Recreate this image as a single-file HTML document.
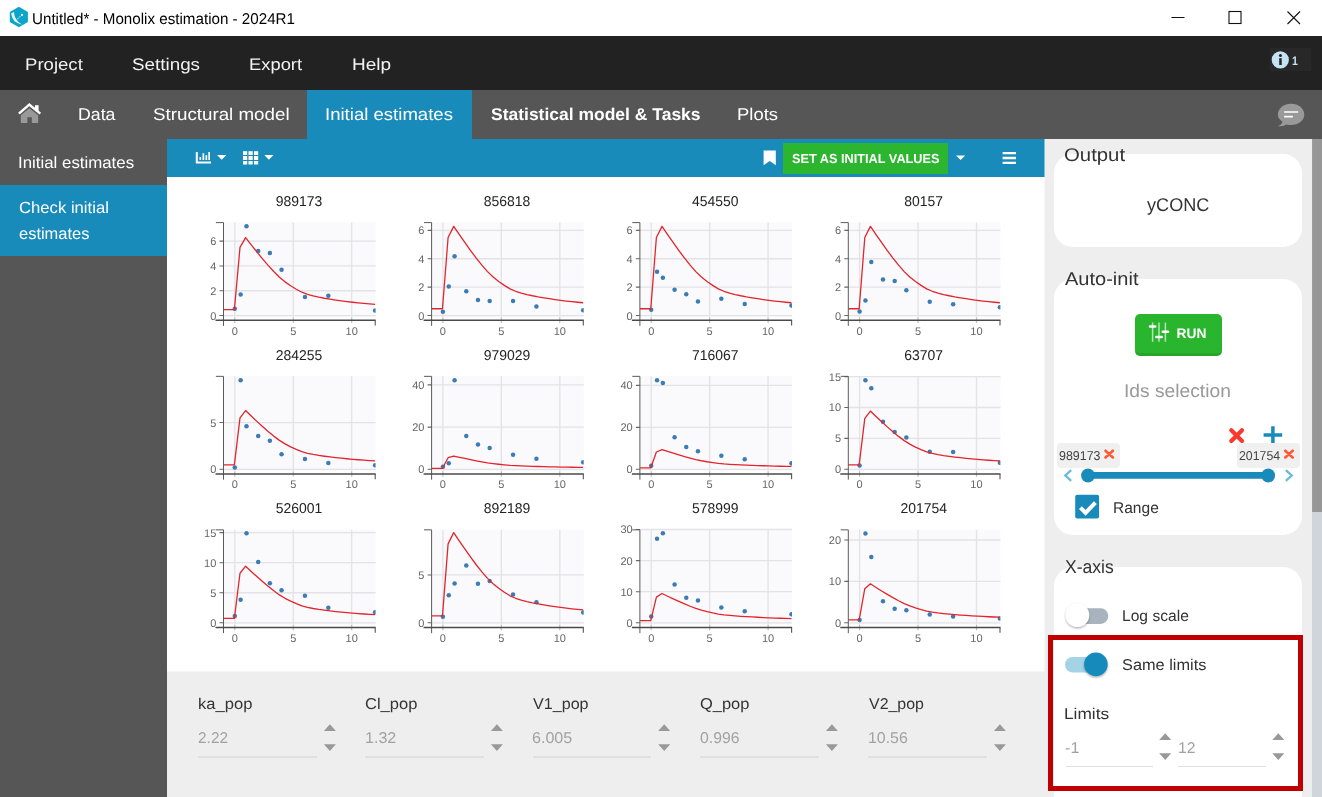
<!DOCTYPE html><html lang="en"><head><meta charset="utf-8"><title>Untitled* - Monolix estimation - 2024R1</title>
<style>
*{box-sizing:border-box}
html,body{margin:0;padding:0;background:#fff}
body{width:1322px;height:797px;overflow:hidden;font-family:"Liberation Sans",sans-serif;position:relative;text-rendering:geometricPrecision}
#app{position:absolute;left:0;top:0;width:1322px;height:797px;overflow:hidden;background:#fff}
.abs{position:absolute}
.t{position:absolute;white-space:pre;transform-origin:0 0;display:block}
.titlebar{position:absolute;left:0;top:0;width:1322px;height:36px;background:#fff}
.menubar{position:absolute;left:0;top:36px;width:1322px;height:54px;background:#222}
.tabbar{position:absolute;left:0;top:90px;width:1322px;height:49px;background:#565656}
.tab-active{position:absolute;left:307px;top:0;width:165px;height:49px;background:#188bbb}
.sidebar{position:absolute;left:0;top:139px;width:167px;height:658px;background:#565656}
.side-active{position:absolute;left:0;top:46px;width:167px;height:71px;background:#188bbb}
.toolbar{position:absolute;left:167px;top:139px;width:877px;height:38px;background:#188bbb}
.main{position:absolute;left:167px;top:177px;width:877px;height:494.5px;background:#fff}
.params{position:absolute;left:167px;top:671px;width:877px;height:126px;background:linear-gradient(#f6f6f6 0,#f6f6f6 1px,#eee 1px)}
.right{position:absolute;left:1044px;top:139px;width:268px;height:658px;background:#eee;overflow:hidden}
.seam{position:absolute;left:1044px;top:139px;width:1px;height:658px;background:linear-gradient(#83bdd5 0,#83bdd5 38px,#f6f6f6 38px,#f6f6f6 532px,#eee 532px)}
.scroll{position:absolute;left:1312px;top:139px;width:10px;height:658px;background:#d0d5dc}
.thumb{position:absolute;left:0;top:0;width:10px;height:373px;background:linear-gradient(90deg,#a0a0a0 0,#999 15%,#969696 100%)}
.card{position:absolute;background:#fff;border-radius:19px}
.plot{position:absolute;overflow:visible}
.pt{font:14.2px "Liberation Sans",sans-serif;fill:#222;text-rendering:geometricPrecision}
.tk{font:11px "Liberation Sans",sans-serif;fill:#666;text-rendering:geometricPrecision}
.uline{position:absolute;height:1.6px;background:#e0e0e0}
.btn-green{position:absolute;background:#2cb52f}
.chip{position:absolute;background:#f0f0f0;border-radius:4px}
</style></head><body><div id="app">
<div class="titlebar">
<svg class="abs" style="left:8px;top:5px" width="22" height="24" viewBox="8 5 22 24"><path d="M18.9 6.7L27.9 11.9V22L18.9 27.2L9.8 22V11.9Z" fill="#0ba5c9"/><path d="M11.1 13.6L14 12.1Q14.1 20.6 22.2 24.7Q12.6 23.4 11.1 13.6Z" fill="#fff" fill-opacity=".92"/><path d="M15.2 21.3L20.6 15.9" stroke="#fff" stroke-width=".8" stroke-dasharray="2.2 .7" fill="none"/><rect x="21" y="13.9" width="1.9" height="1.9" fill="#fff"/></svg>
<span class="t" style="left:32.31px;top:12.00px;font-size:15.6px;line-height:15.6px;font-weight:400;color:#000;transform:scaleX(0.9724)">Untitled* - Monolix estimation - 2024R1</span>
<svg class="abs" style="left:1160px;top:0" width="162" height="36" viewBox="1160 0 162 36"><path d="M1171.5 17.5H1184.5" stroke="#111" stroke-width="1"/><rect x="1229" y="11.5" width="12" height="12" fill="none" stroke="#111" stroke-width="1.1"/><path d="M1287.5 11.5L1300 24M1300 11.5L1287.5 24" stroke="#111" stroke-width="1.1"/></svg>
</div>
<div class="menubar">
<span class="t" style="left:25.16px;top:21.00px;font-size:16.8px;line-height:16.8px;font-weight:400;color:#f2f2f2;transform:scaleX(1.1065)">Project</span>
<span class="t" style="left:132.01px;top:21.00px;font-size:16.8px;line-height:16.8px;font-weight:400;color:#f2f2f2;transform:scaleX(1.1221)">Settings</span>
<span class="t" style="left:249.18px;top:21.00px;font-size:16.8px;line-height:16.8px;font-weight:400;color:#f2f2f2;transform:scaleX(1.0937)">Export</span>
<span class="t" style="left:351.73px;top:21.00px;font-size:16.8px;line-height:16.8px;font-weight:400;color:#f2f2f2;transform:scaleX(1.1315)">Help</span>
<div class="abs" style="left:1269.5px;top:12.3px;width:41.5px;height:22.4px;background:#282828"></div>
<svg class="abs" style="left:1270px;top:14px" width="20" height="20" viewBox="1270 50 20 20"><circle cx="1280.3" cy="59.9" r="8.6" fill="#c5e4f3"/><rect x="1279.2" y="58.2" width="2.5" height="6.8" fill="#222"/><circle cx="1280.45" cy="55.4" r="1.5" fill="#222"/></svg>
<span class="t" style="left:1292.04px;top:19.00px;font-size:12.2px;line-height:12.2px;font-weight:700;color:#c5e4f3;transform:scaleX(0.8647)">1</span>
</div>
<div class="tabbar"><div class="tab-active"></div>
<svg class="abs" style="left:16px;top:11px" width="28" height="24" viewBox="16 101 28 24"><path d="M29.3 108.2L38.2 115.3V123H31.8V117.2H27.4V123H20.8V115.3Z" fill="#999"/><path d="M35 105.2H38.6V111H35Z" fill="#fff"/><path d="M18.9 113.6L29.3 104.6L40.3 113.6" stroke="#fff" stroke-width="2.5" fill="none" stroke-linejoin="miter"/></svg>
<span class="t" style="left:77.84px;top:16.00px;font-size:17.0px;line-height:17.0px;font-weight:400;color:#ffffff;transform:scaleX(1.0424)">Data</span>
<span class="t" style="left:152.72px;top:16.00px;font-size:17.0px;line-height:17.0px;font-weight:400;color:#ffffff;transform:scaleX(1.1032)">Structural model</span>
<span class="t" style="left:324.98px;top:16.00px;font-size:17.0px;line-height:17.0px;font-weight:400;color:#ffffff;transform:scaleX(1.0921)">Initial estimates</span>
<span class="t" style="left:490.59px;top:16.00px;font-size:17.0px;line-height:17.0px;font-weight:700;color:#ffffff;transform:scaleX(1.0284)">Statistical model &amp; Tasks</span>
<span class="t" style="left:737.18px;top:16.00px;font-size:17.0px;line-height:17.0px;font-weight:400;color:#ffffff;transform:scaleX(1.0844)">Plots</span>
<svg class="abs" style="left:1276px;top:12px" width="32" height="26" viewBox="1276.5 102 32 26"><path d="M1278.3 126.2Q1282.5 124.6 1283 121.5Q1278.4 119.3 1278.4 114.6C1278.4 108.4 1284.3 103.8 1291.6 103.8C1298.9 103.8 1304.8 108.4 1304.8 114.6C1304.8 120.8 1298.9 125 1291.6 125Q1289 125 1286.9 124.4Q1283.5 126.6 1278.3 126.2Z" fill="#999"/><path d="M1284.6 112H1298.6M1284.6 116.6H1293.4" stroke="#fff" stroke-width="1.6"/></svg>
</div>
<div class="sidebar"><div class="side-active"></div>
<span class="t" style="left:18.13px;top:16.00px;font-size:16.3px;line-height:16.3px;font-weight:400;color:#ffffff;transform:scaleX(1.0347)">Initial estimates</span>
<span class="t" style="left:18.68px;top:61.00px;font-size:16.3px;line-height:16.3px;font-weight:400;color:#ffffff;transform:scaleX(1.0238)">Check initial</span>
<span class="t" style="left:18.95px;top:87.00px;font-size:16.3px;line-height:16.3px;font-weight:400;color:#ffffff;transform:scaleX(1.0109)">estimates</span>
</div>
<div class="toolbar">
<svg class="abs" style="left:0;top:0" width="878" height="38" viewBox="167 139 878 38"><path d="M195.8 152H197.8V161.5H211V163.4H195.8Z" fill="#fff"/><path d="M199.5 157H201.1V159.9H199.5ZM202.5 153.3H204.2V159.9H202.5ZM205.5 155.2H207.2V159.9H205.5ZM208.3 152H210V159.9H208.3Z" fill="#fff"/><path d="M217 155H226.4L221.7 159.7Z" fill="#fff"/><rect x="243" y="151.2" width="4.2" height="3.8" fill="#fff"/><rect x="243" y="156" width="4.2" height="4" fill="#fff"/><rect x="243" y="161" width="4.2" height="3.5" fill="#fff"/><rect x="248.5" y="151.2" width="4.2" height="3.8" fill="#fff"/><rect x="248.5" y="156" width="4.2" height="4" fill="#fff"/><rect x="248.5" y="161" width="4.2" height="3.5" fill="#fff"/><rect x="254" y="151.2" width="4.2" height="3.8" fill="#fff"/><rect x="254" y="156" width="4.2" height="4" fill="#fff"/><rect x="254" y="161" width="4.2" height="3.5" fill="#fff"/><path d="M264.3 155H273.5L268.9 159.7Z" fill="#fff"/><path d="M763.6 150.6H775.8V165.3L769.7 161L763.6 165.3Z" fill="#fff"/><path d="M956 155.5H965.2L960.6 160.1Z" fill="#fff"/><path d="M1002.6 153.2H1016M1002.6 158H1016M1002.6 162.8H1016" stroke="#fff" stroke-width="2.3"/></svg>
<div class="btn-green" style="left:615.6px;top:3.7px;width:165px;height:31px"></div>
<span class="t" style="left:624.58px;top:13.00px;font-size:13.1px;line-height:13.1px;font-weight:700;color:#ffffff;transform:scaleX(0.9718)">SET AS INITIAL VALUES</span>
</div>
<div class="main">
<svg class="plot" style="left:26px;top:13px" width="200" height="150" viewBox="0 0 200 150"><g transform="translate(0.50 0.40)">
<text class="pt" x="105.4" y="15.7" text-anchor="middle" textLength="46.5" lengthAdjust="spacingAndGlyphs">989173</text>
<rect x="30.5" y="32" width="151.60000000000002" height="95.0" fill="#fafafd"/>
<path d="M41.30 32V127.0M99.75 32V127.0M158.20 32V127.0M30 125.15H182.10000000000002M30 100.35H182.10000000000002M30 75.55H182.10000000000002M30 50.75H182.10000000000002" stroke="#e2e2e7" stroke-width="1.3" fill="none"/>
<path d="M26 125.15H30M26 100.35H30M26 75.55H30M26 50.75H30" stroke="#666" stroke-width="1.1" fill="none"/>
<path d="M41.30 127.0V132.70000000000002M99.75 127.0V132.70000000000002M158.20 127.0V132.70000000000002" stroke="#bdbdc2" stroke-width="1.2" fill="none"/>
<clipPath id="c00"><rect x="30" y="30" width="152.10000000000002" height="97.0"/></clipPath>
<g clip-path="url(#c00)">
<circle cx="41.30" cy="118.33" r="2.25" fill="#3b7cb5"/>
<circle cx="47.14" cy="104.07" r="2.25" fill="#3b7cb5"/>
<circle cx="52.99" cy="35.87" r="2.25" fill="#3b7cb5"/>
<circle cx="64.68" cy="60.67" r="2.25" fill="#3b7cb5"/>
<circle cx="76.37" cy="62.53" r="2.25" fill="#3b7cb5"/>
<circle cx="88.06" cy="79.27" r="2.25" fill="#3b7cb5"/>
<circle cx="111.44" cy="106.55" r="2.25" fill="#3b7cb5"/>
<circle cx="134.82" cy="105.31" r="2.25" fill="#3b7cb5"/>
<circle cx="181.58" cy="120.19" r="2.25" fill="#3b7cb5"/>
<polyline points="29.61,119.20 40.87,119.20 46.50,56.95 52.12,47.28 57.75,54.53 63.38,61.56 69.01,68.41 74.64,75.00 80.27,81.13 85.90,86.79 91.52,91.45 97.15,95.38 102.78,98.80 108.41,101.81 114.04,103.95 119.67,105.49 125.29,106.77 130.92,107.86 136.55,108.82 142.18,109.67 147.81,110.45 153.44,111.18 159.07,111.86 164.69,112.48 170.32,113.04 175.95,113.54 181.58,113.99" fill="none" stroke="#e3242b" stroke-width="1.3" stroke-linejoin="round"/></g>
<path d="M22.4 32.2H30V135.5" stroke="#5a5a5a" stroke-width="1" fill="none"/>
<path d="M22 129.9H182.20000000000002" stroke="#4a4a4a" stroke-width="1.35" fill="none"/>
<path d="M181.70000000000002 129.9v5.3" stroke="#555" stroke-width="1.1" fill="none"/>
<text class="tk"  x="22.8" y="129.15" text-anchor="end">0</text>
<text class="tk"  x="22.8" y="104.35" text-anchor="end">2</text>
<text class="tk"  x="22.8" y="79.55" text-anchor="end">4</text>
<text class="tk"  x="22.8" y="54.75" text-anchor="end">6</text>
<text class="tk" x="41.30" y="144.3" text-anchor="middle">0</text>
<text class="tk" x="99.75" y="144.3" text-anchor="middle">5</text>
<text class="tk" x="158.20" y="144.3" text-anchor="middle">10</text>
</g></svg>
<svg class="plot" style="left:234px;top:13px" width="200" height="150" viewBox="0 0 200 150"><g transform="translate(0.60 0.40)">
<text class="pt" x="105.4" y="15.7" text-anchor="middle" textLength="46.5" lengthAdjust="spacingAndGlyphs">856818</text>
<rect x="30.5" y="32" width="151.60000000000002" height="95.0" fill="#fafafd"/>
<path d="M41.30 32V127.0M99.75 32V127.0M158.20 32V127.0M30 125.15H182.10000000000002M30 96.75H182.10000000000002M30 68.35H182.10000000000002M30 39.95H182.10000000000002" stroke="#e2e2e7" stroke-width="1.3" fill="none"/>
<path d="M26 125.15H30M26 96.75H30M26 68.35H30M26 39.95H30" stroke="#666" stroke-width="1.1" fill="none"/>
<path d="M41.30 127.0V132.70000000000002M99.75 127.0V132.70000000000002M158.20 127.0V132.70000000000002" stroke="#bdbdc2" stroke-width="1.2" fill="none"/>
<clipPath id="c10"><rect x="30" y="30" width="152.10000000000002" height="97.0"/></clipPath>
<g clip-path="url(#c10)">
<circle cx="41.30" cy="121.32" r="2.25" fill="#3b7cb5"/>
<circle cx="47.14" cy="96.18" r="2.25" fill="#3b7cb5"/>
<circle cx="52.99" cy="65.79" r="2.25" fill="#3b7cb5"/>
<circle cx="64.68" cy="100.87" r="2.25" fill="#3b7cb5"/>
<circle cx="76.37" cy="109.53" r="2.25" fill="#3b7cb5"/>
<circle cx="88.06" cy="110.67" r="2.25" fill="#3b7cb5"/>
<circle cx="111.44" cy="110.52" r="2.25" fill="#3b7cb5"/>
<circle cx="134.82" cy="116.06" r="2.25" fill="#3b7cb5"/>
<circle cx="181.58" cy="119.90" r="2.25" fill="#3b7cb5"/>
<polyline points="29.61,118.33 40.87,118.33 46.50,47.05 52.12,35.97 57.75,44.28 63.38,52.33 69.01,60.17 74.64,67.72 80.27,74.74 85.90,81.22 91.52,86.55 97.15,91.06 102.78,94.98 108.41,98.43 114.04,100.87 119.67,102.64 125.29,104.11 130.92,105.35 136.55,106.45 142.18,107.42 147.81,108.31 153.44,109.15 159.07,109.93 164.69,110.64 170.32,111.28 175.95,111.86 181.58,112.37" fill="none" stroke="#e3242b" stroke-width="1.3" stroke-linejoin="round"/></g>
<path d="M22.4 32.2H30V135.5" stroke="#5a5a5a" stroke-width="1" fill="none"/>
<path d="M22 129.9H182.20000000000002" stroke="#4a4a4a" stroke-width="1.35" fill="none"/>
<path d="M181.70000000000002 129.9v5.3" stroke="#555" stroke-width="1.1" fill="none"/>
<text class="tk"  x="22.8" y="129.15" text-anchor="end">0</text>
<text class="tk"  x="22.8" y="100.75" text-anchor="end">2</text>
<text class="tk"  x="22.8" y="72.35" text-anchor="end">4</text>
<text class="tk"  x="22.8" y="43.95" text-anchor="end">6</text>
<text class="tk" x="41.30" y="144.3" text-anchor="middle">0</text>
<text class="tk" x="99.75" y="144.3" text-anchor="middle">5</text>
<text class="tk" x="158.20" y="144.3" text-anchor="middle">10</text>
</g></svg>
<svg class="plot" style="left:442px;top:13px" width="200" height="150" viewBox="0 0 200 150"><g transform="translate(0.90 0.40)">
<text class="pt" x="105.4" y="15.7" text-anchor="middle" textLength="46.5" lengthAdjust="spacingAndGlyphs">454550</text>
<rect x="30.5" y="32" width="151.60000000000002" height="95.0" fill="#fafafd"/>
<path d="M41.30 32V127.0M99.75 32V127.0M158.20 32V127.0M30 125.15H182.10000000000002M30 96.75H182.10000000000002M30 68.35H182.10000000000002M30 39.95H182.10000000000002" stroke="#e2e2e7" stroke-width="1.3" fill="none"/>
<path d="M26 125.15H30M26 96.75H30M26 68.35H30M26 39.95H30" stroke="#666" stroke-width="1.1" fill="none"/>
<path d="M41.30 127.0V132.70000000000002M99.75 127.0V132.70000000000002M158.20 127.0V132.70000000000002" stroke="#bdbdc2" stroke-width="1.2" fill="none"/>
<clipPath id="c20"><rect x="30" y="30" width="152.10000000000002" height="97.0"/></clipPath>
<g clip-path="url(#c20)">
<circle cx="41.30" cy="119.33" r="2.25" fill="#3b7cb5"/>
<circle cx="47.14" cy="81.41" r="2.25" fill="#3b7cb5"/>
<circle cx="52.99" cy="87.38" r="2.25" fill="#3b7cb5"/>
<circle cx="64.68" cy="99.45" r="2.25" fill="#3b7cb5"/>
<circle cx="76.37" cy="103.85" r="2.25" fill="#3b7cb5"/>
<circle cx="88.06" cy="111.09" r="2.25" fill="#3b7cb5"/>
<circle cx="111.44" cy="108.25" r="2.25" fill="#3b7cb5"/>
<circle cx="134.82" cy="113.65" r="2.25" fill="#3b7cb5"/>
<circle cx="181.58" cy="115.21" r="2.25" fill="#3b7cb5"/>
<polyline points="29.61,118.33 40.87,118.33 46.50,47.05 52.12,35.97 57.75,44.28 63.38,52.33 69.01,60.17 74.64,67.72 80.27,74.74 85.90,81.22 91.52,86.55 97.15,91.06 102.78,94.98 108.41,98.43 114.04,100.87 119.67,102.64 125.29,104.11 130.92,105.35 136.55,106.45 142.18,107.42 147.81,108.31 153.44,109.15 159.07,109.93 164.69,110.64 170.32,111.28 175.95,111.86 181.58,112.37" fill="none" stroke="#e3242b" stroke-width="1.3" stroke-linejoin="round"/></g>
<path d="M22.4 32.2H30V135.5" stroke="#5a5a5a" stroke-width="1" fill="none"/>
<path d="M22 129.9H182.20000000000002" stroke="#4a4a4a" stroke-width="1.35" fill="none"/>
<path d="M181.70000000000002 129.9v5.3" stroke="#555" stroke-width="1.1" fill="none"/>
<text class="tk"  x="22.8" y="129.15" text-anchor="end">0</text>
<text class="tk"  x="22.8" y="100.75" text-anchor="end">2</text>
<text class="tk"  x="22.8" y="72.35" text-anchor="end">4</text>
<text class="tk"  x="22.8" y="43.95" text-anchor="end">6</text>
<text class="tk" x="41.30" y="144.3" text-anchor="middle">0</text>
<text class="tk" x="99.75" y="144.3" text-anchor="middle">5</text>
<text class="tk" x="158.20" y="144.3" text-anchor="middle">10</text>
</g></svg>
<svg class="plot" style="left:651px;top:13px" width="200" height="150" viewBox="0 0 200 150"><g transform="translate(0.30 0.40)">
<text class="pt" x="105.4" y="15.7" text-anchor="middle" textLength="38.8" lengthAdjust="spacingAndGlyphs">80157</text>
<rect x="30.5" y="32" width="151.60000000000002" height="95.0" fill="#fafafd"/>
<path d="M41.30 32V127.0M99.75 32V127.0M158.20 32V127.0M30 125.15H182.10000000000002M30 96.75H182.10000000000002M30 68.35H182.10000000000002M30 39.95H182.10000000000002" stroke="#e2e2e7" stroke-width="1.3" fill="none"/>
<path d="M26 125.15H30M26 96.75H30M26 68.35H30M26 39.95H30" stroke="#666" stroke-width="1.1" fill="none"/>
<path d="M41.30 127.0V132.70000000000002M99.75 127.0V132.70000000000002M158.20 127.0V132.70000000000002" stroke="#bdbdc2" stroke-width="1.2" fill="none"/>
<clipPath id="c30"><rect x="30" y="30" width="152.10000000000002" height="97.0"/></clipPath>
<g clip-path="url(#c30)">
<circle cx="41.30" cy="121.17" r="2.25" fill="#3b7cb5"/>
<circle cx="47.14" cy="110.10" r="2.25" fill="#3b7cb5"/>
<circle cx="52.99" cy="71.62" r="2.25" fill="#3b7cb5"/>
<circle cx="64.68" cy="89.22" r="2.25" fill="#3b7cb5"/>
<circle cx="76.37" cy="90.64" r="2.25" fill="#3b7cb5"/>
<circle cx="88.06" cy="99.73" r="2.25" fill="#3b7cb5"/>
<circle cx="111.44" cy="111.38" r="2.25" fill="#3b7cb5"/>
<circle cx="134.82" cy="113.79" r="2.25" fill="#3b7cb5"/>
<circle cx="181.58" cy="116.77" r="2.25" fill="#3b7cb5"/>
<polyline points="29.61,118.33 40.87,118.33 46.50,47.05 52.12,35.97 57.75,44.28 63.38,52.33 69.01,60.17 74.64,67.72 80.27,74.74 85.90,81.22 91.52,86.55 97.15,91.06 102.78,94.98 108.41,98.43 114.04,100.87 119.67,102.64 125.29,104.11 130.92,105.35 136.55,106.45 142.18,107.42 147.81,108.31 153.44,109.15 159.07,109.93 164.69,110.64 170.32,111.28 175.95,111.86 181.58,112.37" fill="none" stroke="#e3242b" stroke-width="1.3" stroke-linejoin="round"/></g>
<path d="M22.4 32.2H30V135.5" stroke="#5a5a5a" stroke-width="1" fill="none"/>
<path d="M22 129.9H182.20000000000002" stroke="#4a4a4a" stroke-width="1.35" fill="none"/>
<path d="M181.70000000000002 129.9v5.3" stroke="#555" stroke-width="1.1" fill="none"/>
<text class="tk"  x="22.8" y="129.15" text-anchor="end">0</text>
<text class="tk"  x="22.8" y="100.75" text-anchor="end">2</text>
<text class="tk"  x="22.8" y="72.35" text-anchor="end">4</text>
<text class="tk"  x="22.8" y="43.95" text-anchor="end">6</text>
<text class="tk" x="41.30" y="144.3" text-anchor="middle">0</text>
<text class="tk" x="99.75" y="144.3" text-anchor="middle">5</text>
<text class="tk" x="158.20" y="144.3" text-anchor="middle">10</text>
</g></svg>
<svg class="plot" style="left:26px;top:167px" width="200" height="150" viewBox="0 0 200 150"><g transform="translate(0.50 0.15)">
<text class="pt" x="105.4" y="15.7" text-anchor="middle" textLength="46.5" lengthAdjust="spacingAndGlyphs">284255</text>
<rect x="30.5" y="32" width="151.60000000000002" height="95.0" fill="#fafafd"/>
<path d="M41.30 32V127.0M99.75 32V127.0M158.20 32V127.0M30 125.15H182.10000000000002M30 78.40H182.10000000000002" stroke="#e2e2e7" stroke-width="1.3" fill="none"/>
<path d="M26 125.15H30M26 78.40H30" stroke="#666" stroke-width="1.1" fill="none"/>
<path d="M41.30 127.0V132.70000000000002M99.75 127.0V132.70000000000002M158.20 127.0V132.70000000000002" stroke="#bdbdc2" stroke-width="1.2" fill="none"/>
<clipPath id="c01"><rect x="30" y="30" width="152.10000000000002" height="97.0"/></clipPath>
<g clip-path="url(#c01)">
<circle cx="41.30" cy="123.28" r="2.25" fill="#3b7cb5"/>
<circle cx="47.14" cy="36.04" r="2.25" fill="#3b7cb5"/>
<circle cx="52.99" cy="82.14" r="2.25" fill="#3b7cb5"/>
<circle cx="64.68" cy="91.77" r="2.25" fill="#3b7cb5"/>
<circle cx="76.37" cy="96.63" r="2.25" fill="#3b7cb5"/>
<circle cx="88.06" cy="110.10" r="2.25" fill="#3b7cb5"/>
<circle cx="111.44" cy="114.96" r="2.25" fill="#3b7cb5"/>
<circle cx="134.82" cy="118.89" r="2.25" fill="#3b7cb5"/>
<circle cx="181.58" cy="121.22" r="2.25" fill="#3b7cb5"/>
<polyline points="29.61,120.66 40.87,120.66 46.50,73.73 52.12,66.43 57.75,71.90 63.38,77.20 69.01,82.37 74.64,87.33 80.27,91.96 85.90,96.22 91.52,99.74 97.15,102.71 102.78,105.28 108.41,107.55 114.04,109.16 119.67,110.33 125.29,111.29 130.92,112.11 136.55,112.83 142.18,113.47 147.81,114.06 153.44,114.62 159.07,115.13 164.69,115.60 170.32,116.02 175.95,116.40 181.58,116.74" fill="none" stroke="#e3242b" stroke-width="1.3" stroke-linejoin="round"/></g>
<path d="M22.4 32.2H30V135.5" stroke="#5a5a5a" stroke-width="1" fill="none"/>
<path d="M22 129.9H182.20000000000002" stroke="#4a4a4a" stroke-width="1.35" fill="none"/>
<path d="M181.70000000000002 129.9v5.3" stroke="#555" stroke-width="1.1" fill="none"/>
<text class="tk"  x="22.8" y="129.15" text-anchor="end">0</text>
<text class="tk"  x="22.8" y="82.40" text-anchor="end">5</text>
<text class="tk" x="41.30" y="144.3" text-anchor="middle">0</text>
<text class="tk" x="99.75" y="144.3" text-anchor="middle">5</text>
<text class="tk" x="158.20" y="144.3" text-anchor="middle">10</text>
</g></svg>
<svg class="plot" style="left:234px;top:167px" width="200" height="150" viewBox="0 0 200 150"><g transform="translate(0.60 0.15)">
<text class="pt" x="105.4" y="15.7" text-anchor="middle" textLength="46.5" lengthAdjust="spacingAndGlyphs">979029</text>
<rect x="30.5" y="32" width="151.60000000000002" height="95.0" fill="#fafafd"/>
<path d="M41.30 32V127.0M99.75 32V127.0M158.20 32V127.0M30 125.15H182.10000000000002M30 82.95H182.10000000000002M30 40.75H182.10000000000002" stroke="#e2e2e7" stroke-width="1.3" fill="none"/>
<path d="M26 125.15H30M26 82.95H30M26 40.75H30" stroke="#666" stroke-width="1.1" fill="none"/>
<path d="M41.30 127.0V132.70000000000002M99.75 127.0V132.70000000000002M158.20 127.0V132.70000000000002" stroke="#bdbdc2" stroke-width="1.2" fill="none"/>
<clipPath id="c11"><rect x="30" y="30" width="152.10000000000002" height="97.0"/></clipPath>
<g clip-path="url(#c11)">
<circle cx="41.30" cy="122.49" r="2.25" fill="#3b7cb5"/>
<circle cx="47.14" cy="119.03" r="2.25" fill="#3b7cb5"/>
<circle cx="52.99" cy="36.11" r="2.25" fill="#3b7cb5"/>
<circle cx="64.68" cy="91.81" r="2.25" fill="#3b7cb5"/>
<circle cx="76.37" cy="100.46" r="2.25" fill="#3b7cb5"/>
<circle cx="88.06" cy="103.84" r="2.25" fill="#3b7cb5"/>
<circle cx="111.44" cy="110.59" r="2.25" fill="#3b7cb5"/>
<circle cx="134.82" cy="114.60" r="2.25" fill="#3b7cb5"/>
<circle cx="181.58" cy="118.19" r="2.25" fill="#3b7cb5"/>
<polyline points="29.61,124.14 40.87,124.14 46.50,113.55 52.12,111.90 57.75,113.13 63.38,114.33 69.01,115.50 74.64,116.62 80.27,117.66 85.90,118.62 91.52,119.41 97.15,120.09 102.78,120.67 108.41,121.18 114.04,121.54 119.67,121.81 125.29,122.02 130.92,122.21 136.55,122.37 142.18,122.52 147.81,122.65 153.44,122.77 159.07,122.89 164.69,122.99 170.32,123.09 175.95,123.17 181.58,123.25" fill="none" stroke="#e3242b" stroke-width="1.3" stroke-linejoin="round"/></g>
<path d="M22.4 32.2H30V135.5" stroke="#5a5a5a" stroke-width="1" fill="none"/>
<path d="M22 129.9H182.20000000000002" stroke="#4a4a4a" stroke-width="1.35" fill="none"/>
<path d="M181.70000000000002 129.9v5.3" stroke="#555" stroke-width="1.1" fill="none"/>
<text class="tk"  x="22.8" y="129.15" text-anchor="end">0</text>
<text class="tk"  x="22.8" y="86.95" text-anchor="end">20</text>
<text class="tk"  x="22.8" y="44.75" text-anchor="end">40</text>
<text class="tk" x="41.30" y="144.3" text-anchor="middle">0</text>
<text class="tk" x="99.75" y="144.3" text-anchor="middle">5</text>
<text class="tk" x="158.20" y="144.3" text-anchor="middle">10</text>
</g></svg>
<svg class="plot" style="left:442px;top:167px" width="200" height="150" viewBox="0 0 200 150"><g transform="translate(0.90 0.15)">
<text class="pt" x="105.4" y="15.7" text-anchor="middle" textLength="46.5" lengthAdjust="spacingAndGlyphs">716067</text>
<rect x="30.5" y="32" width="151.60000000000002" height="95.0" fill="#fafafd"/>
<path d="M41.30 32V127.0M99.75 32V127.0M158.20 32V127.0M30 125.15H182.10000000000002M30 83.19H182.10000000000002M30 41.23H182.10000000000002" stroke="#e2e2e7" stroke-width="1.3" fill="none"/>
<path d="M26 125.15H30M26 83.19H30M26 41.23H30" stroke="#666" stroke-width="1.1" fill="none"/>
<path d="M41.30 127.0V132.70000000000002M99.75 127.0V132.70000000000002M158.20 127.0V132.70000000000002" stroke="#bdbdc2" stroke-width="1.2" fill="none"/>
<clipPath id="c21"><rect x="30" y="30" width="152.10000000000002" height="97.0"/></clipPath>
<g clip-path="url(#c21)">
<circle cx="41.30" cy="121.71" r="2.25" fill="#3b7cb5"/>
<circle cx="47.14" cy="35.99" r="2.25" fill="#3b7cb5"/>
<circle cx="52.99" cy="38.92" r="2.25" fill="#3b7cb5"/>
<circle cx="64.68" cy="93.05" r="2.25" fill="#3b7cb5"/>
<circle cx="76.37" cy="102.91" r="2.25" fill="#3b7cb5"/>
<circle cx="88.06" cy="107.11" r="2.25" fill="#3b7cb5"/>
<circle cx="111.44" cy="111.72" r="2.25" fill="#3b7cb5"/>
<circle cx="134.82" cy="115.08" r="2.25" fill="#3b7cb5"/>
<circle cx="181.58" cy="119.19" r="2.25" fill="#3b7cb5"/>
<polyline points="29.61,123.64 40.87,123.64 46.50,107.84 52.12,105.39 57.75,107.23 63.38,109.01 69.01,110.75 74.64,112.42 80.27,113.98 85.90,115.41 91.52,116.60 97.15,117.60 102.78,118.46 108.41,119.23 114.04,119.77 119.67,120.16 125.29,120.49 130.92,120.76 136.55,121.00 142.18,121.22 147.81,121.42 153.44,121.61 159.07,121.78 164.69,121.93 170.32,122.08 175.95,122.20 181.58,122.32" fill="none" stroke="#e3242b" stroke-width="1.3" stroke-linejoin="round"/></g>
<path d="M22.4 32.2H30V135.5" stroke="#5a5a5a" stroke-width="1" fill="none"/>
<path d="M22 129.9H182.20000000000002" stroke="#4a4a4a" stroke-width="1.35" fill="none"/>
<path d="M181.70000000000002 129.9v5.3" stroke="#555" stroke-width="1.1" fill="none"/>
<text class="tk"  x="22.8" y="129.15" text-anchor="end">0</text>
<text class="tk"  x="22.8" y="87.19" text-anchor="end">20</text>
<text class="tk"  x="22.8" y="45.23" text-anchor="end">40</text>
<text class="tk" x="41.30" y="144.3" text-anchor="middle">0</text>
<text class="tk" x="99.75" y="144.3" text-anchor="middle">5</text>
<text class="tk" x="158.20" y="144.3" text-anchor="middle">10</text>
</g></svg>
<svg class="plot" style="left:651px;top:167px" width="200" height="150" viewBox="0 0 200 150"><g transform="translate(0.30 0.15)">
<text class="pt" x="105.4" y="15.7" text-anchor="middle" textLength="38.8" lengthAdjust="spacingAndGlyphs">63707</text>
<rect x="30.5" y="32" width="151.60000000000002" height="95.0" fill="#fafafd"/>
<path d="M41.30 32V127.0M99.75 32V127.0M158.20 32V127.0M30 125.15H182.10000000000002M30 94.25H182.10000000000002M30 63.35H182.10000000000002M30 32.45H182.10000000000002" stroke="#e2e2e7" stroke-width="1.3" fill="none"/>
<path d="M26 125.15H30M26 94.25H30M26 63.35H30M26 32.45H30" stroke="#666" stroke-width="1.1" fill="none"/>
<path d="M41.30 127.0V132.70000000000002M99.75 127.0V132.70000000000002M158.20 127.0V132.70000000000002" stroke="#bdbdc2" stroke-width="1.2" fill="none"/>
<clipPath id="c31"><rect x="30" y="30" width="152.10000000000002" height="97.0"/></clipPath>
<g clip-path="url(#c31)">
<circle cx="41.30" cy="121.38" r="2.25" fill="#3b7cb5"/>
<circle cx="47.14" cy="36.16" r="2.25" fill="#3b7cb5"/>
<circle cx="52.99" cy="44.19" r="2.25" fill="#3b7cb5"/>
<circle cx="64.68" cy="77.63" r="2.25" fill="#3b7cb5"/>
<circle cx="76.37" cy="87.82" r="2.25" fill="#3b7cb5"/>
<circle cx="88.06" cy="93.32" r="2.25" fill="#3b7cb5"/>
<circle cx="111.44" cy="107.60" r="2.25" fill="#3b7cb5"/>
<circle cx="134.82" cy="107.91" r="2.25" fill="#3b7cb5"/>
<circle cx="181.58" cy="118.72" r="2.25" fill="#3b7cb5"/>
<polyline points="29.61,120.70 40.87,120.70 46.50,74.17 52.12,66.93 57.75,72.36 63.38,77.61 69.01,82.73 74.64,87.66 80.27,92.24 85.90,96.47 91.52,99.95 97.15,102.90 102.78,105.45 108.41,107.71 114.04,109.30 119.67,110.46 125.29,111.41 130.92,112.23 136.55,112.94 142.18,113.57 147.81,114.16 153.44,114.71 159.07,115.21 164.69,115.68 170.32,116.10 175.95,116.47 181.58,116.81" fill="none" stroke="#e3242b" stroke-width="1.3" stroke-linejoin="round"/></g>
<path d="M22.4 32.2H30V135.5" stroke="#5a5a5a" stroke-width="1" fill="none"/>
<path d="M22 129.9H182.20000000000002" stroke="#4a4a4a" stroke-width="1.35" fill="none"/>
<path d="M181.70000000000002 129.9v5.3" stroke="#555" stroke-width="1.1" fill="none"/>
<text class="tk"  x="22.8" y="129.15" text-anchor="end">0</text>
<text class="tk"  x="22.8" y="98.25" text-anchor="end">5</text>
<text class="tk"  x="22.8" y="67.35" text-anchor="end">10</text>
<text class="tk"  x="22.8" y="36.45" text-anchor="end">15</text>
<text class="tk" x="41.30" y="144.3" text-anchor="middle">0</text>
<text class="tk" x="99.75" y="144.3" text-anchor="middle">5</text>
<text class="tk" x="158.20" y="144.3" text-anchor="middle">10</text>
</g></svg>
<svg class="plot" style="left:26px;top:320px" width="200" height="150" viewBox="0 0 200 150"><g transform="translate(0.50 0.65)">
<text class="pt" x="105.4" y="15.7" text-anchor="middle" textLength="46.5" lengthAdjust="spacingAndGlyphs">526001</text>
<rect x="30.5" y="32" width="151.60000000000002" height="95.0" fill="#fafafd"/>
<path d="M41.30 32V127.0M99.75 32V127.0M158.20 32V127.0M30 125.15H182.10000000000002M30 95.10H182.10000000000002M30 65.05H182.10000000000002M30 35.00H182.10000000000002" stroke="#e2e2e7" stroke-width="1.3" fill="none"/>
<path d="M26 125.15H30M26 95.10H30M26 65.05H30M26 35.00H30" stroke="#666" stroke-width="1.1" fill="none"/>
<path d="M41.30 127.0V132.70000000000002M99.75 127.0V132.70000000000002M158.20 127.0V132.70000000000002" stroke="#bdbdc2" stroke-width="1.2" fill="none"/>
<clipPath id="c02"><rect x="30" y="30" width="152.10000000000002" height="97.0"/></clipPath>
<g clip-path="url(#c02)">
<circle cx="41.30" cy="118.42" r="2.25" fill="#3b7cb5"/>
<circle cx="47.14" cy="102.07" r="2.25" fill="#3b7cb5"/>
<circle cx="52.99" cy="35.60" r="2.25" fill="#3b7cb5"/>
<circle cx="64.68" cy="64.45" r="2.25" fill="#3b7cb5"/>
<circle cx="76.37" cy="85.48" r="2.25" fill="#3b7cb5"/>
<circle cx="88.06" cy="92.52" r="2.25" fill="#3b7cb5"/>
<circle cx="111.44" cy="98.04" r="2.25" fill="#3b7cb5"/>
<circle cx="134.82" cy="110.12" r="2.25" fill="#3b7cb5"/>
<circle cx="181.58" cy="114.51" r="2.25" fill="#3b7cb5"/>
<polyline points="29.61,120.82 40.87,120.82 46.50,75.57 52.12,68.54 57.75,73.81 63.38,78.92 69.01,83.90 74.64,88.69 80.27,93.14 85.90,97.26 91.52,100.65 97.15,103.51 102.78,106.00 108.41,108.18 114.04,109.74 119.67,110.86 125.29,111.79 130.92,112.58 136.55,113.28 142.18,113.89 147.81,114.46 153.44,115.00 159.07,115.49 164.69,115.94 170.32,116.34 175.95,116.71 181.58,117.04" fill="none" stroke="#e3242b" stroke-width="1.3" stroke-linejoin="round"/></g>
<path d="M22.4 32.2H30V135.5" stroke="#5a5a5a" stroke-width="1" fill="none"/>
<path d="M22 129.9H182.20000000000002" stroke="#4a4a4a" stroke-width="1.35" fill="none"/>
<path d="M181.70000000000002 129.9v5.3" stroke="#555" stroke-width="1.1" fill="none"/>
<text class="tk"  x="22.8" y="129.15" text-anchor="end">0</text>
<text class="tk"  x="22.8" y="99.10" text-anchor="end">5</text>
<text class="tk"  x="22.8" y="69.05" text-anchor="end">10</text>
<text class="tk"  x="22.8" y="39.00" text-anchor="end">15</text>
<text class="tk" x="41.30" y="144.3" text-anchor="middle">0</text>
<text class="tk" x="99.75" y="144.3" text-anchor="middle">5</text>
<text class="tk" x="158.20" y="144.3" text-anchor="middle">10</text>
</g></svg>
<svg class="plot" style="left:234px;top:320px" width="200" height="150" viewBox="0 0 200 150"><g transform="translate(0.60 0.65)">
<text class="pt" x="105.4" y="15.7" text-anchor="middle" textLength="46.5" lengthAdjust="spacingAndGlyphs">892189</text>
<rect x="30.5" y="32" width="151.60000000000002" height="95.0" fill="#fafafd"/>
<path d="M41.30 32V127.0M99.75 32V127.0M158.20 32V127.0M30 125.15H182.10000000000002M30 77.30H182.10000000000002" stroke="#e2e2e7" stroke-width="1.3" fill="none"/>
<path d="M26 125.15H30M26 77.30H30" stroke="#666" stroke-width="1.1" fill="none"/>
<path d="M41.30 127.0V132.70000000000002M99.75 127.0V132.70000000000002M158.20 127.0V132.70000000000002" stroke="#bdbdc2" stroke-width="1.2" fill="none"/>
<clipPath id="c12"><rect x="30" y="30" width="152.10000000000002" height="97.0"/></clipPath>
<g clip-path="url(#c12)">
<circle cx="41.30" cy="119.22" r="2.25" fill="#3b7cb5"/>
<circle cx="47.14" cy="97.68" r="2.25" fill="#3b7cb5"/>
<circle cx="52.99" cy="85.91" r="2.25" fill="#3b7cb5"/>
<circle cx="64.68" cy="67.73" r="2.25" fill="#3b7cb5"/>
<circle cx="76.37" cy="86.10" r="2.25" fill="#3b7cb5"/>
<circle cx="88.06" cy="83.23" r="2.25" fill="#3b7cb5"/>
<circle cx="111.44" cy="96.92" r="2.25" fill="#3b7cb5"/>
<circle cx="134.82" cy="104.48" r="2.25" fill="#3b7cb5"/>
<circle cx="181.58" cy="114.81" r="2.25" fill="#3b7cb5"/>
<polyline points="29.61,118.26 40.87,118.26 46.50,46.20 52.12,35.00 57.75,43.40 63.38,51.54 69.01,59.47 74.64,67.09 80.27,74.19 85.90,80.74 91.52,86.13 97.15,90.69 102.78,94.65 108.41,98.14 114.04,100.61 119.67,102.39 125.29,103.88 130.92,105.14 136.55,106.24 142.18,107.22 147.81,108.13 153.44,108.98 159.07,109.76 164.69,110.48 170.32,111.13 175.95,111.71 181.58,112.23" fill="none" stroke="#e3242b" stroke-width="1.3" stroke-linejoin="round"/></g>
<path d="M22.4 32.2H30V135.5" stroke="#5a5a5a" stroke-width="1" fill="none"/>
<path d="M22 129.9H182.20000000000002" stroke="#4a4a4a" stroke-width="1.35" fill="none"/>
<path d="M181.70000000000002 129.9v5.3" stroke="#555" stroke-width="1.1" fill="none"/>
<text class="tk"  x="22.8" y="129.15" text-anchor="end">0</text>
<text class="tk"  x="22.8" y="81.30" text-anchor="end">5</text>
<text class="tk" x="41.30" y="144.3" text-anchor="middle">0</text>
<text class="tk" x="99.75" y="144.3" text-anchor="middle">5</text>
<text class="tk" x="158.20" y="144.3" text-anchor="middle">10</text>
</g></svg>
<svg class="plot" style="left:442px;top:320px" width="200" height="150" viewBox="0 0 200 150"><g transform="translate(0.90 0.65)">
<text class="pt" x="105.4" y="15.7" text-anchor="middle" textLength="46.5" lengthAdjust="spacingAndGlyphs">578999</text>
<rect x="30.5" y="32" width="151.60000000000002" height="95.0" fill="#fafafd"/>
<path d="M41.30 32V127.0M99.75 32V127.0M158.20 32V127.0M30 125.15H182.10000000000002M30 94.05H182.10000000000002M30 62.95H182.10000000000002M30 31.85H182.10000000000002" stroke="#e2e2e7" stroke-width="1.3" fill="none"/>
<path d="M26 125.15H30M26 94.05H30M26 62.95H30M26 31.85H30" stroke="#666" stroke-width="1.1" fill="none"/>
<path d="M41.30 127.0V132.70000000000002M99.75 127.0V132.70000000000002M158.20 127.0V132.70000000000002" stroke="#bdbdc2" stroke-width="1.2" fill="none"/>
<clipPath id="c22"><rect x="30" y="30" width="152.10000000000002" height="97.0"/></clipPath>
<g clip-path="url(#c22)">
<circle cx="41.30" cy="118.93" r="2.25" fill="#3b7cb5"/>
<circle cx="47.14" cy="41.18" r="2.25" fill="#3b7cb5"/>
<circle cx="52.99" cy="35.58" r="2.25" fill="#3b7cb5"/>
<circle cx="64.68" cy="86.90" r="2.25" fill="#3b7cb5"/>
<circle cx="76.37" cy="100.05" r="2.25" fill="#3b7cb5"/>
<circle cx="88.06" cy="102.88" r="2.25" fill="#3b7cb5"/>
<circle cx="111.44" cy="109.79" r="2.25" fill="#3b7cb5"/>
<circle cx="134.82" cy="113.71" r="2.25" fill="#3b7cb5"/>
<circle cx="181.58" cy="116.69" r="2.25" fill="#3b7cb5"/>
<polyline points="29.61,122.91 40.87,122.91 46.50,99.49 52.12,95.85 57.75,98.58 63.38,101.23 69.01,103.80 74.64,106.28 80.27,108.59 85.90,110.72 91.52,112.47 97.15,113.95 102.78,115.24 108.41,116.37 114.04,117.17 119.67,117.76 125.29,118.24 130.92,118.65 136.55,119.01 142.18,119.32 147.81,119.62 153.44,119.90 159.07,120.15 164.69,120.38 170.32,120.59 175.95,120.78 181.58,120.95" fill="none" stroke="#e3242b" stroke-width="1.3" stroke-linejoin="round"/></g>
<path d="M22.4 32.2H30V135.5" stroke="#5a5a5a" stroke-width="1" fill="none"/>
<path d="M22 129.9H182.20000000000002" stroke="#4a4a4a" stroke-width="1.35" fill="none"/>
<path d="M181.70000000000002 129.9v5.3" stroke="#555" stroke-width="1.1" fill="none"/>
<text class="tk"  x="22.8" y="129.15" text-anchor="end">0</text>
<text class="tk"  x="22.8" y="98.05" text-anchor="end">10</text>
<text class="tk"  x="22.8" y="66.95" text-anchor="end">20</text>
<text class="tk"  x="22.8" y="35.85" text-anchor="end">30</text>
<text class="tk" x="41.30" y="144.3" text-anchor="middle">0</text>
<text class="tk" x="99.75" y="144.3" text-anchor="middle">5</text>
<text class="tk" x="158.20" y="144.3" text-anchor="middle">10</text>
</g></svg>
<svg class="plot" style="left:651px;top:320px" width="200" height="150" viewBox="0 0 200 150"><g transform="translate(0.30 0.65)">
<text class="pt" x="105.4" y="15.7" text-anchor="middle" textLength="46.5" lengthAdjust="spacingAndGlyphs">201754</text>
<rect x="30.5" y="32" width="151.60000000000002" height="95.0" fill="#fafafd"/>
<path d="M41.30 32V127.0M99.75 32V127.0M158.20 32V127.0M30 125.15H182.10000000000002M30 83.75H182.10000000000002M30 42.35H182.10000000000002" stroke="#e2e2e7" stroke-width="1.3" fill="none"/>
<path d="M26 125.15H30M26 83.75H30M26 42.35H30" stroke="#666" stroke-width="1.1" fill="none"/>
<path d="M41.30 127.0V132.70000000000002M99.75 127.0V132.70000000000002M158.20 127.0V132.70000000000002" stroke="#bdbdc2" stroke-width="1.2" fill="none"/>
<clipPath id="c32"><rect x="30" y="30" width="152.10000000000002" height="97.0"/></clipPath>
<g clip-path="url(#c32)">
<circle cx="41.30" cy="122.33" r="2.25" fill="#3b7cb5"/>
<circle cx="47.14" cy="35.73" r="2.25" fill="#3b7cb5"/>
<circle cx="52.99" cy="59.32" r="2.25" fill="#3b7cb5"/>
<circle cx="64.68" cy="103.50" r="2.25" fill="#3b7cb5"/>
<circle cx="76.37" cy="111.03" r="2.25" fill="#3b7cb5"/>
<circle cx="88.06" cy="112.61" r="2.25" fill="#3b7cb5"/>
<circle cx="111.44" cy="116.87" r="2.25" fill="#3b7cb5"/>
<circle cx="134.82" cy="118.73" r="2.25" fill="#3b7cb5"/>
<circle cx="181.58" cy="120.76" r="2.25" fill="#3b7cb5"/>
<polyline points="29.61,122.17 40.87,122.17 46.50,91.00 52.12,86.15 57.75,89.78 63.38,93.30 69.01,96.73 74.64,100.03 80.27,103.10 85.90,105.94 91.52,108.27 97.15,110.24 102.78,111.96 108.41,113.46 114.04,114.53 119.67,115.31 125.29,115.95 130.92,116.49 136.55,116.97 142.18,117.40 147.81,117.79 153.44,118.15 159.07,118.49 164.69,118.80 170.32,119.08 175.95,119.34 181.58,119.56" fill="none" stroke="#e3242b" stroke-width="1.3" stroke-linejoin="round"/></g>
<path d="M22.4 32.2H30V135.5" stroke="#5a5a5a" stroke-width="1" fill="none"/>
<path d="M22 129.9H182.20000000000002" stroke="#4a4a4a" stroke-width="1.35" fill="none"/>
<path d="M181.70000000000002 129.9v5.3" stroke="#555" stroke-width="1.1" fill="none"/>
<text class="tk"  x="22.8" y="129.15" text-anchor="end">0</text>
<text class="tk"  x="22.8" y="87.75" text-anchor="end">10</text>
<text class="tk"  x="22.8" y="46.35" text-anchor="end">20</text>
<text class="tk" x="41.30" y="144.3" text-anchor="middle">0</text>
<text class="tk" x="99.75" y="144.3" text-anchor="middle">5</text>
<text class="tk" x="158.20" y="144.3" text-anchor="middle">10</text>
</g></svg>
</div>
<div class="params">
<span class="t" style="left:30.88px;top:26.00px;font-size:15.6px;line-height:15.6px;font-weight:400;color:#333;transform:scaleX(1.0625)">ka_pop</span>
<span class="t" style="left:31.23px;top:60.00px;font-size:15.6px;line-height:15.6px;font-weight:400;color:#a2a2a2;transform:scaleX(0.9914)">2.22</span>
<div class="uline" style="left:31.2px;top:85.1px;width:118.7px"></div>
<svg class="abs" style="left:156px;top:53px" width="14" height="29" viewBox="0 0 14 29"><path transform="translate(0.70 0.10)" d="M0.2 6.8L6.2 0.2L12.2 6.8Z M0.2 20.2L6.2 26.8L12.2 20.2Z" fill="#999"/></svg>
<span class="t" style="left:198.12px;top:26.00px;font-size:15.6px;line-height:15.6px;font-weight:400;color:#333;transform:scaleX(1.0588)">Cl_pop</span>
<span class="t" style="left:197.75px;top:60.00px;font-size:15.6px;line-height:15.6px;font-weight:400;color:#a2a2a2;transform:scaleX(1.0310)">1.32</span>
<div class="uline" style="left:198.2px;top:85.1px;width:118.7px"></div>
<svg class="abs" style="left:323px;top:53px" width="14" height="29" viewBox="0 0 14 29"><path transform="translate(0.70 0.10)" d="M0.2 6.8L6.2 0.2L12.2 6.8Z M0.2 20.2L6.2 26.8L12.2 20.2Z" fill="#999"/></svg>
<span class="t" style="left:365.85px;top:26.00px;font-size:15.6px;line-height:15.6px;font-weight:400;color:#333;transform:scaleX(1.0334)">V1_pop</span>
<span class="t" style="left:365.27px;top:60.00px;font-size:15.6px;line-height:15.6px;font-weight:400;color:#a2a2a2;transform:scaleX(1.0317)">6.005</span>
<div class="uline" style="left:365.5px;top:85.1px;width:118.7px"></div>
<svg class="abs" style="left:491px;top:53px" width="14" height="29" viewBox="0 0 14 29"><path transform="translate(0.00 0.10)" d="M0.2 6.8L6.2 0.2L12.2 6.8Z M0.2 20.2L6.2 26.8L12.2 20.2Z" fill="#999"/></svg>
<span class="t" style="left:533.19px;top:26.00px;font-size:15.6px;line-height:15.6px;font-weight:400;color:#333;transform:scaleX(1.0558)">Q_pop</span>
<span class="t" style="left:533.35px;top:60.00px;font-size:15.6px;line-height:15.6px;font-weight:400;color:#a2a2a2;transform:scaleX(1.0120)">0.996</span>
<div class="uline" style="left:533.2px;top:85.1px;width:118.7px"></div>
<svg class="abs" style="left:658px;top:53px" width="14" height="29" viewBox="0 0 14 29"><path transform="translate(0.70 0.10)" d="M0.2 6.8L6.2 0.2L12.2 6.8Z M0.2 20.2L6.2 26.8L12.2 20.2Z" fill="#999"/></svg>
<span class="t" style="left:701.56px;top:26.00px;font-size:15.6px;line-height:15.6px;font-weight:400;color:#333;transform:scaleX(1.0220)">V2_pop</span>
<span class="t" style="left:700.77px;top:60.00px;font-size:15.6px;line-height:15.6px;font-weight:400;color:#a2a2a2;transform:scaleX(1.0194)">10.56</span>
<div class="uline" style="left:701.2px;top:85.1px;width:118.7px"></div>
<svg class="abs" style="left:826px;top:53px" width="14" height="29" viewBox="0 0 14 29"><path transform="translate(0.70 0.10)" d="M0.2 6.8L6.2 0.2L12.2 6.8Z M0.2 20.2L6.2 26.8L12.2 20.2Z" fill="#999"/></svg>
</div>
<div class="right">
<div class="card" style="left:9.6px;top:15.4px;width:248.7px;height:92.2px;"></div>
<span class="t" style="left:20.19px;top:7.00px;font-size:18.4px;line-height:18.4px;font-weight:400;color:#333;transform:scaleX(1.1064)">Output</span>
<span class="t" style="left:103.29px;top:57.00px;font-size:18.4px;line-height:18.4px;font-weight:400;color:#333;transform:scaleX(0.9845)">yCONC</span>
<div class="card" style="left:9.6px;top:139.9px;width:248.7px;height:256.1px;"></div>
<span class="t" style="left:21.02px;top:131.00px;font-size:18.4px;line-height:18.4px;font-weight:400;color:#333;transform:scaleX(1.0886)">Auto-init</span>
<div class="abs" style="left:90.5px;top:175.2px;width:87.7px;height:41.8px;background:#2ab52e;border-radius:5px;border-bottom:3px solid #27a42a"></div>
<svg class="abs" style="left:104.0px;top:181.0px" width="24" height="24" viewBox="1148 320 24 24"><path d="M1152.6 322.4V341.8M1159 322.4V341.8M1165.4 322.4V341.8" stroke="#fff" stroke-opacity=".65" stroke-width="1.5"/><path d="M1150 326.5H1155.2M1156.4 337H1161.6M1162.8 331.8H1168" stroke="#fff" stroke-width="2.6" stroke-linecap="round"/></svg>
<span class="t" style="left:132.60px;top:188.00px;font-size:13.8px;line-height:13.8px;font-weight:700;color:#ffffff;transform:scaleX(1.0000)">RUN</span>
<span class="t" style="left:80.31px;top:243.00px;font-size:18.4px;line-height:18.4px;font-weight:400;color:#999;transform:scaleX(1.0454)">Ids selection</span>
<svg class="abs" style="left:182.0px;top:285.0px" width="60" height="22" viewBox="1226 424 60 22"><path d="M1231.3 430.2L1242 440.9M1242 430.2L1231.3 440.9" stroke="#fa382d" stroke-width="4.2" stroke-linecap="round"/><path d="M1272.9 426.2V444M1263.6 435.1H1282.2" stroke="#188bbb" stroke-width="3.5"/></svg>
<div class="chip" style="left:13.0px;top:304.0px;width:62.6px;height:24.6px"></div>
<div class="chip" style="left:192.9px;top:304.0px;width:62.9px;height:24.6px"></div>
<span class="t" style="left:14.94px;top:311.00px;font-size:12.9px;line-height:12.9px;font-weight:400;color:#444;transform:scaleX(0.9639)">989173</span>
<span class="t" style="left:195.27px;top:311.00px;font-size:12.9px;line-height:12.9px;font-weight:400;color:#444;transform:scaleX(0.9575)">201754</span>
<svg class="abs" style="left:6.0px;top:307.0px" width="256" height="40" viewBox="1050 446 256 40"><path d="M1105.5 450.8L1112.9 457.4M1112.9 450.8L1105.5 457.4M1285.3 450.8L1292.7 457.4M1292.7 450.8L1285.3 457.4" stroke="#ff5a36" stroke-width="2.7" stroke-linecap="round"/><path d="M1071.2 470.2L1065.3 475.5L1071.2 480.8M1285.8 470.2L1291.7 475.5L1285.8 480.8" stroke="#6db9d8" stroke-width="2.3" fill="none"/><path d="M1088 475.4H1268.2" stroke="#188bbb" stroke-width="6.6"/><circle cx="1088" cy="475.5" r="6.9" fill="#188bbb"/><circle cx="1268.2" cy="475.5" r="6.9" fill="#188bbb"/></svg>
<svg class="abs" style="left:31.0px;top:355.0px" width="25" height="26" viewBox="1075 494 25 26"><rect x="1075.2" y="494.7" width="23.9" height="23.9" rx="2" fill="#188bbb"/><path d="M1080.4 507.6L1085.6 512.8L1095.4 502.6" stroke="#fff" stroke-width="4" fill="none"/></svg>
<span class="t" style="left:69.41px;top:362.00px;font-size:15.6px;line-height:15.6px;font-weight:400;color:#333;transform:scaleX(0.9960)">Range</span>
<div class="card" style="left:9.6px;top:427.7px;width:248.7px;height:263.3px;"></div>
<span class="t" style="left:20.85px;top:419.00px;font-size:18.4px;line-height:18.4px;font-weight:400;color:#333;transform:scaleX(0.9544)">X-axis</span>
<svg class="abs" style="left:16.0px;top:459.0px" width="54" height="84" viewBox="1060 598 54 84"><defs><filter id="sh" x="-30%" y="-30%" width="160%" height="170%"><feDropShadow dx="0" dy="1.2" stdDeviation="1.1" flood-color="#000" flood-opacity=".35"/></filter></defs><rect x="1070" y="608.3" width="38.3" height="15.6" rx="7.8" fill="#a9b3bd"/><circle cx="1077.4" cy="615.2" r="11.8" fill="#fff" filter="url(#sh)"/><rect x="1065" y="656.9" width="38.3" height="15.6" rx="7.8" fill="#a5d3e6"/><circle cx="1095.9" cy="664.4" r="11.8" fill="#188bbb" filter="url(#sh)"/></svg>
<span class="t" style="left:78.30px;top:470.00px;font-size:15.6px;line-height:15.6px;font-weight:400;color:#333;transform:scaleX(1.0014)">Log scale</span>
<span class="t" style="left:78.37px;top:519.00px;font-size:15.6px;line-height:15.6px;font-weight:400;color:#333;transform:scaleX(1.0467)">Same limits</span>
<span class="t" style="left:20.16px;top:568.00px;font-size:15.6px;line-height:15.6px;font-weight:400;color:#333;transform:scaleX(1.1089)">Limits</span>
<span class="t" style="left:20.80px;top:602.00px;font-size:15.6px;line-height:15.6px;font-weight:400;color:#a2a2a2;transform:scaleX(1.0465)">-1</span>
<span class="t" style="left:133.88px;top:602.00px;font-size:15.6px;line-height:15.6px;font-weight:400;color:#a2a2a2;transform:scaleX(1.0117)">12</span>
<div class="uline" style="left:21.6px;top:626.6px;width:87px"></div>
<div class="uline" style="left:134.2px;top:626.6px;width:87.5px"></div>
<svg class="abs" style="left:115px;top:594px" width="14" height="29" viewBox="0 0 14 29"><path transform="translate(0.00 0.10)" d="M0.2 6.8L6.2 0.2L12.2 6.8Z M0.2 20.2L6.2 26.8L12.2 20.2Z" fill="#999"/></svg>
<svg class="abs" style="left:228px;top:594px" width="14" height="29" viewBox="0 0 14 29"><path transform="translate(0.10 0.10)" d="M0.2 6.8L6.2 0.2L12.2 6.8Z M0.2 20.2L6.2 26.8L12.2 20.2Z" fill="#999"/></svg>
<div class="abs" style="left:4.2px;top:496.0px;width:254.8px;height:155.5px;border:5px solid #c00000"></div>
</div>
<div class="seam"></div>
<div class="scroll"><div class="thumb"></div></div>
</div></body></html>
